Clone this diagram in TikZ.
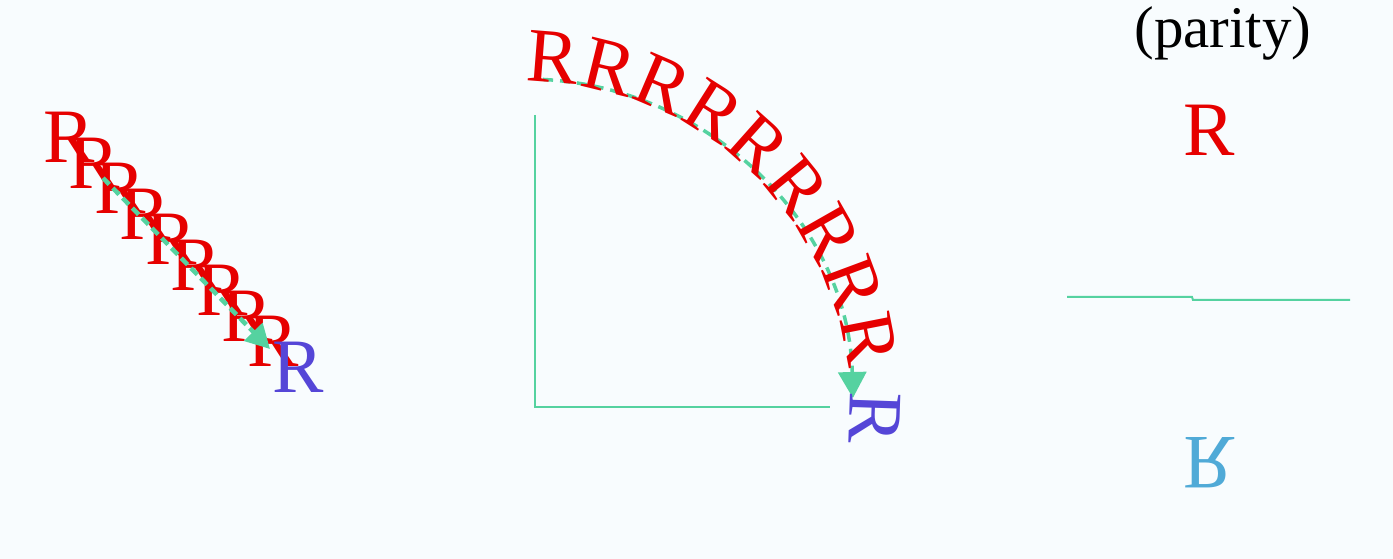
\documentclass[tikz,border=0pt]{standalone}
\usepackage{fontspec}
\setmainfont{Liberation Serif}
\usetikzlibrary{arrows.meta,calc}
\usepackage{xcolor}
\definecolor{paper}{HTML}{F8FCFE}
\definecolor{redR}{HTML}{E60000}
\definecolor{blueR}{HTML}{5546D7}
\definecolor{mirrorR}{HTML}{50AAD7}
\definecolor{trail}{HTML}{55D2A0}
\tikzset{
  letter/.style={inner sep=0pt,font=\fontsize{77}{80}\selectfont,text=redR},
  moved/.style={letter,text=blueR},
  flipped/.style={letter,text=mirrorR,yscale=-1},
  heading/.style={inner sep=0pt,font=\fontsize{59}{64}\selectfont,text=black},
  axisline/.style={draw=trail,line width=2pt},
  slidearr/.style={-{Triangle[length=24pt,width=25pt]},draw=trail,line width=4.5pt,dash pattern=on 9pt off 5pt},
  turnarr/.style={-{Triangle[length=26pt,width=28pt]},draw=trail,line width=3.5pt,dash pattern=on 10pt off 7pt},
}
\begin{document}
\begin{tikzpicture}[x=1pt,y=1pt]

\fill[paper] (0,0) rectangle (1393,559);

% translation
\node[letter,anchor=base west] (t0) at (43,396) {R};
\node[letter,anchor=base west] (t1) at (68.5,370.5) {R};
\node[letter,anchor=base west] (t2) at (94,345) {R};
\node[letter,anchor=base west] (t3) at (119.5,319.5) {R};
\node[letter,anchor=base west] (t4) at (145,294) {R};
\node[letter,anchor=base west] (t5) at (170.5,268.5) {R};
\node[letter,anchor=base west] (t6) at (196,243) {R};
\node[letter,anchor=base west] (t7) at (221.5,217.5) {R};
\node[letter,anchor=base west] (t8) at (247,192) {R};
\node[moved,anchor=base west] (t9) at (272.5,166.5) {R};
\coordinate (tstart) at (103,381);
\coordinate (tend) at (270,210);
\draw[slidearr] (tstart) -- (tend);

% rotation
\coordinate (ctr) at (526,153);
\coordinate (ytop) at (535,444);
\coordinate (xend) at (830,152);
\draw[axisline] (ytop) |- (xend);
\coordinate (rstart) at ($(ctr)+(87:327)$);
\draw[turnarr] (rstart) arc[start angle=87,end angle=1.4,radius=327];
\node[letter,anchor=south,rotate=-4.5] (r0) at ($(ctr)+(85.5:324)$) {R};
\node[letter,anchor=south,rotate=-13.8] (r1) at ($(ctr)+(76.2:324)$) {R};
\node[letter,anchor=south,rotate=-23.1] (r2) at ($(ctr)+(66.9:324)$) {R};
\node[letter,anchor=south,rotate=-32.4] (r3) at ($(ctr)+(57.6:324)$) {R};
\node[letter,anchor=south,rotate=-41.7] (r4) at ($(ctr)+(48.3:324)$) {R};
\node[letter,anchor=south,rotate=-51] (r5) at ($(ctr)+(39:324)$) {R};
\node[letter,anchor=south,rotate=-60.3] (r6) at ($(ctr)+(29.7:324)$) {R};
\node[letter,anchor=south,rotate=-69.6] (r7) at ($(ctr)+(20.4:324)$) {R};
\node[letter,anchor=south,rotate=-78.9] (r8) at ($(ctr)+(11.1:324)$) {R};
\node[moved,anchor=south,rotate=-91.9] (r9) at ($(ctr)+(-1.9:324)$) {R};

% reflection
\node[heading] (parity) at (1223,526) {(parity)};
\node[letter] (orig) at (1209,429) {R};
\node[flipped] (image) at (1209,96) {R};
\coordinate (mleft) at (1067,262);
\coordinate (mright) at (1350,259);
\draw[axisline] (mleft) -- (1192,262) -- (1193,259) -- (mright);

\end{tikzpicture}
\end{document}
